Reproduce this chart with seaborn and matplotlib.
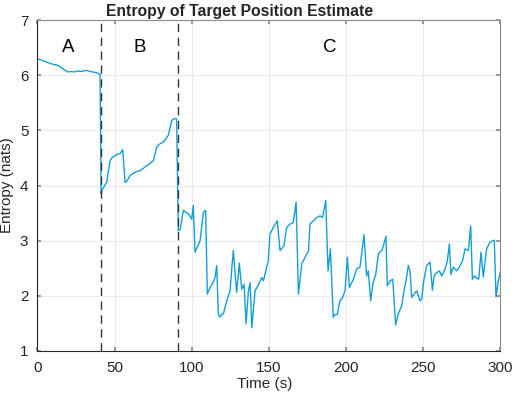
import matplotlib
matplotlib.use("Agg")
import matplotlib.pyplot as plt
import seaborn as sns
import pandas as pd

# Entropy trace, split by phase
t_a = [0, 2, 4, 6, 8, 10, 12, 14, 16, 18, 20, 22, 24, 26, 28, 30, 32, 34, 36, 38, 40.6]
h_a = [6.30, 6.28, 6.26, 6.24, 6.22, 6.20, 6.19, 6.17, 6.13, 6.09, 6.06, 6.07, 6.06, 6.08, 6.07,
       6.08, 6.09, 6.07, 6.06, 6.05, 6.02]

t_b = [41.3, 42, 43, 44.9, 46, 47.1, 48.5, 50.3, 52, 53.6, 55.3, 56.8, 58, 60, 62, 64, 66.5,
       68.5, 70.8, 73, 75.1, 76.3, 77.3, 79, 81.6, 83, 84.8, 86, 87, 88.5, 90.2]
h_b = [3.85, 3.93, 3.97, 4.06, 4.25, 4.45, 4.51, 4.54, 4.57, 4.58, 4.65, 4.06, 4.08, 4.18, 4.22,
       4.25, 4.27, 4.31, 4.36, 4.40, 4.45, 4.58, 4.70, 4.75, 4.79, 4.84, 4.91, 5.05, 5.18, 5.21, 5.21]

t_c = [91.3, 92.5, 94.6, 96, 97.8, 100, 101, 102.1, 103.5, 105.4,
       107.5, 109, 110.1, 111.9, 113.5, 115.1, 116.2, 117.2, 118.3, 119.3,
       120.5, 122.7, 124.8, 126.9, 129.1, 130.8, 132.4, 133.9, 135.2, 136.7,
       137.8, 138.9, 141, 143.2, 145.3, 146.4, 148.6, 149.6, 150.7, 152.8,
       155.4, 157.2, 159.8, 161.5, 163.7, 165.8, 167.6, 169.1, 171.3, 174.5,
       175.6, 176.6, 178.8, 181, 183.1, 184.8, 186.8, 188.3, 189.8, 191.7,
       192.8, 194.3, 196, 197.8, 199.3, 200.8, 202.1, 204.7, 206.9, 209,
       211.6, 213.3, 214.4, 215.9, 217.5, 219.2, 220.9, 223.1, 224.2, 225.8,
       226.7, 228.5, 230.2, 232.1, 233.8, 236, 237.5, 238.8, 240.3, 241.4,
       242.5, 244, 245.7, 247.9, 249, 250.1, 252.2, 254.4, 255.9, 257,
       258.7, 260.4, 261.9, 264.1, 265.6, 266.9, 267.9, 269.4, 271.6, 273.3,
       275.5, 277, 279.2, 280.7, 281.8, 283.1, 284.6, 285.9, 287.4, 288.9,
       291, 293.1, 296, 297.1, 298.6, 300]
h_c = [3.18, 3.2, 3.55, 3.52, 3.49, 3.39, 3.64, 2.79, 2.88, 3.0,
       3.51, 3.55, 2.03, 2.15, 2.22, 2.33, 2.55, 1.67, 1.61, 1.66,
       1.67, 1.91, 2.09, 2.82, 2.06, 2.59, 2.12, 2.21, 1.49, 2.09,
       2.24, 1.42, 2.09, 2.2, 2.33, 2.27, 2.52, 2.64, 3.12, 3.24,
       3.36, 2.82, 2.91, 3.24, 3.3, 3.33, 3.70, 2.03, 2.58, 2.76,
       2.8, 3.3, 3.36, 3.42, 3.45, 3.42, 3.73, 2.45, 2.85, 1.61,
       1.66, 1.66, 1.91, 1.97, 2.09, 2.70, 2.15, 2.30, 2.49, 2.52,
       3.11, 2.36, 2.45, 1.91, 2.24, 2.39, 2.76, 2.82, 2.91, 3.08,
       2.18, 2.27, 2.3, 1.47, 1.67, 1.82, 2.09, 2.27, 2.55, 2.45,
       1.97, 2.03, 2.09, 1.91, 1.94, 2.24, 2.55, 2.61, 2.10, 2.36,
       2.42, 2.45, 2.36, 2.48, 2.64, 2.94, 2.39, 2.52, 2.45, 2.52,
       2.64, 2.85, 2.82, 3.27, 2.30, 2.36, 2.32, 2.3, 2.79, 2.34,
       2.85, 2.97, 3.01, 1.98, 2.27, 2.45]

phase_bounds = [41, 91]
phase_labels = ["A", "B", "C"]
phase_label_x = [19.7, 66, 189.6]

df = pd.DataFrame({"t": t_a + t_b + t_c, "h": h_a + h_b + h_c})

sns.set_theme(style="ticks")
plt.rcParams["font.family"] = ["Liberation Sans", "DejaVu Sans"]
dark = "#262626"
light = "#8c8c8c"

fig = plt.figure(figsize=(5.12, 3.96), dpi=100)
ax = fig.add_axes([0.073, 0.114, 0.9045, 0.835])

sns.lineplot(data=df, x="t", y="h", sort=False, estimator=None, color="#139fd6", lw=1.0, ax=ax)

for xb in phase_bounds:
    ax.axvline(xb, color="#333333", ls=(0, (6, 4)), lw=1.0)
for lab, xl in zip(phase_labels, phase_label_x):
    ax.text(xl, 6.5, lab, ha="center", va="center", fontsize=13.5, color="black")

ax.set_xlim(0, 300)
ax.set_ylim(1, 7)
ax.set_xticks(range(0, 301, 50))
ax.set_yticks(range(1, 8))
ax.grid(True, color="#ebebeb", lw=0.8)
ax.set_axisbelow(True)
ax.tick_params(direction="in", top=True, right=True, length=3, color=light,
               labelsize=11, labelcolor=dark)
ax.tick_params(axis="x", pad=7.5)
ax.tick_params(axis="y", pad=6.5)
for side, s in ax.spines.items():
    s.set_visible(True)
    s.set_linewidth(0.8)
    s.set_color(dark if side in ("left", "bottom") else light)

ax.set_xlabel("Time (s)", fontsize=11, color=dark)
ax.set_ylabel("Entropy (nats)", fontsize=11, color=dark)
ax.xaxis.set_label_coords(0.491, -0.08)
ax.yaxis.set_label_coords(-0.05, 0.5)
ax.set_title("Entropy of Target Position Estimate", fontsize=11.3, fontweight="bold",
             x=0.437, pad=3)

fig.savefig("out.png", dpi=100)
